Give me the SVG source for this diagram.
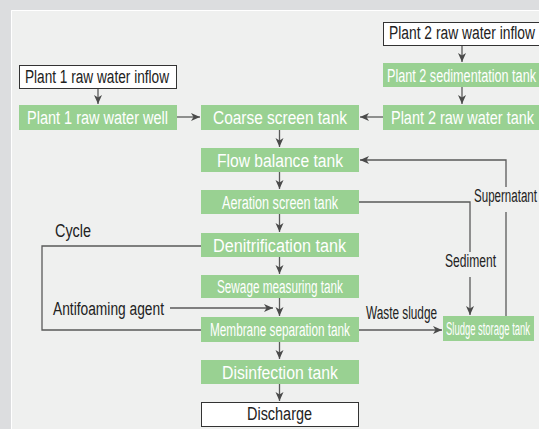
<svg xmlns="http://www.w3.org/2000/svg" width="539" height="429" viewBox="0 0 539 429">
<style>
.g{fill:#99d192}
.w{fill:#ffffff;stroke:#333333;stroke-width:1}
.t{font-family:"Liberation Sans",Arial,sans-serif;font-size:18px}
.tw{fill:#ffffff}
.td{fill:#222222}
.c{fill:none;stroke:#5a5a5a;stroke-width:1.3}
</style>
<defs>
<marker id="ah" markerUnits="userSpaceOnUse" markerWidth="10" markerHeight="10" viewBox="0 0 10 10" refX="9" refY="5" orient="auto">
<path d="M0,1 L9,5 L0,9 L2.5,5 Z" fill="#4a4a4a"/>
</marker>
</defs>
<rect x="0" y="0" width="539" height="429" fill="#dcdddf"/>
<rect x="11" y="10" width="528" height="419" fill="#eff0ef"/>
<path d="M11.5,429 V10.5 H539" fill="none" stroke="#ffffff" stroke-width="1"/>

<g id="connectors">
<path class="c" d="M98,88 V104" marker-end="url(#ah)"/>
<path class="c" d="M177,117 H200" marker-end="url(#ah)"/>
<path class="c" d="M383,117 H360" marker-end="url(#ah)"/>
<path class="c" d="M462,45 V62" marker-end="url(#ah)"/>
<path class="c" d="M462,87 V104" marker-end="url(#ah)"/>
<path class="c" d="M279.5,129 V147" marker-end="url(#ah)"/>
<path class="c" d="M279.5,172 V189" marker-end="url(#ah)"/>
<path class="c" d="M279.5,214 V232" marker-end="url(#ah)"/>
<path class="c" d="M279.5,257 V274" marker-end="url(#ah)"/>
<path class="c" d="M279.5,298 V316" marker-end="url(#ah)"/>
<path class="c" d="M279.5,342 V359" marker-end="url(#ah)"/>
<path class="c" d="M279.5,384 V401" marker-end="url(#ah)"/>
<path class="c" d="M506,187 V160 H360" marker-end="url(#ah)"/>
<path class="c" d="M506,212 V316"/>
<path class="c" d="M359,202 H470 V252"/>
<path class="c" d="M470,277 V315" marker-end="url(#ah)"/>
<path class="c" d="M359,330 H442" marker-end="url(#ah)"/>
<path class="c" d="M201,246 H42 V330 H201"/>
<path class="c" d="M170,308 H273" marker-end="url(#ah)"/>
</g>

<g id="plant1-inflow">
<rect class="w" x="19.5" y="65.5" width="157" height="23"/>
<text class="t td" x="25" y="82.5" textLength="144" lengthAdjust="spacingAndGlyphs">Plant 1 raw water inflow</text>
</g>
<g id="plant1-well">
<rect class="g" x="19" y="105" width="158" height="25"/>
<text class="t tw" x="27" y="124" textLength="141" lengthAdjust="spacingAndGlyphs">Plant 1 raw water well</text>
</g>
<g id="plant2-inflow">
<rect class="w" x="383.5" y="22.5" width="157" height="23"/>
<text class="t td" x="389" y="39" textLength="146" lengthAdjust="spacingAndGlyphs">Plant 2 raw water inflow</text>
</g>
<g id="plant2-sedimentation">
<rect class="g" x="383" y="63" width="156" height="24"/>
<text class="t tw" x="387" y="82" textLength="149" lengthAdjust="spacingAndGlyphs">Plant 2 sedimentation tank</text>
</g>
<g id="plant2-tank">
<rect class="g" x="383" y="105" width="156" height="25"/>
<text class="t tw" x="391" y="124" textLength="143" lengthAdjust="spacingAndGlyphs">Plant 2 raw water tank</text>
</g>
<g id="coarse-screen">
<rect class="g" x="201" y="105" width="158" height="25"/>
<text class="t tw" x="213" y="124" textLength="134" lengthAdjust="spacingAndGlyphs">Coarse screen tank</text>
</g>
<g id="flow-balance">
<rect class="g" x="201" y="148" width="158" height="24"/>
<text class="t tw" x="217" y="167" textLength="126" lengthAdjust="spacingAndGlyphs">Flow balance tank</text>
</g>
<g id="aeration-screen">
<rect class="g" x="201" y="190" width="158" height="24"/>
<text class="t tw" x="222" y="209" textLength="116" lengthAdjust="spacingAndGlyphs">Aeration screen tank</text>
</g>
<g id="denitrification">
<rect class="g" x="201" y="233" width="158" height="24"/>
<text class="t tw" x="213" y="252" textLength="133" lengthAdjust="spacingAndGlyphs">Denitrification tank</text>
</g>
<g id="sewage-measuring">
<rect class="g" x="201" y="275" width="158" height="23"/>
<text class="t tw" x="217" y="293" textLength="126" lengthAdjust="spacingAndGlyphs">Sewage measuring tank</text>
</g>
<g id="membrane-separation">
<rect class="g" x="201" y="317" width="158" height="25"/>
<text class="t tw" x="210" y="336" textLength="140" lengthAdjust="spacingAndGlyphs">Membrane separation tank</text>
</g>
<g id="disinfection">
<rect class="g" x="201" y="360" width="158" height="24"/>
<text class="t tw" x="222" y="378.5" textLength="116" lengthAdjust="spacingAndGlyphs">Disinfection tank</text>
</g>
<g id="discharge">
<rect class="w" x="201.5" y="402.5" width="157" height="24"/>
<text class="t td" x="247" y="420" textLength="65" lengthAdjust="spacingAndGlyphs">Discharge</text>
</g>
<g id="sludge-storage">
<rect class="g" x="443" y="316" width="91" height="25"/>
<text class="t tw" x="446" y="335" textLength="84" lengthAdjust="spacingAndGlyphs">Sludge storage tank</text>
</g>
<g id="labels">
<text class="t td" x="55" y="237" textLength="36" lengthAdjust="spacingAndGlyphs">Cycle</text>
<text class="t td" x="53" y="315" textLength="111" lengthAdjust="spacingAndGlyphs">Antifoaming agent</text>
<text class="t td" x="366" y="319" textLength="71" lengthAdjust="spacingAndGlyphs">Waste sludge</text>
<text class="t td" x="445" y="267" textLength="51" lengthAdjust="spacingAndGlyphs">Sediment</text>
<text class="t td" x="474" y="201.5" textLength="63" lengthAdjust="spacingAndGlyphs">Supernatant</text>
</g>
</svg>
